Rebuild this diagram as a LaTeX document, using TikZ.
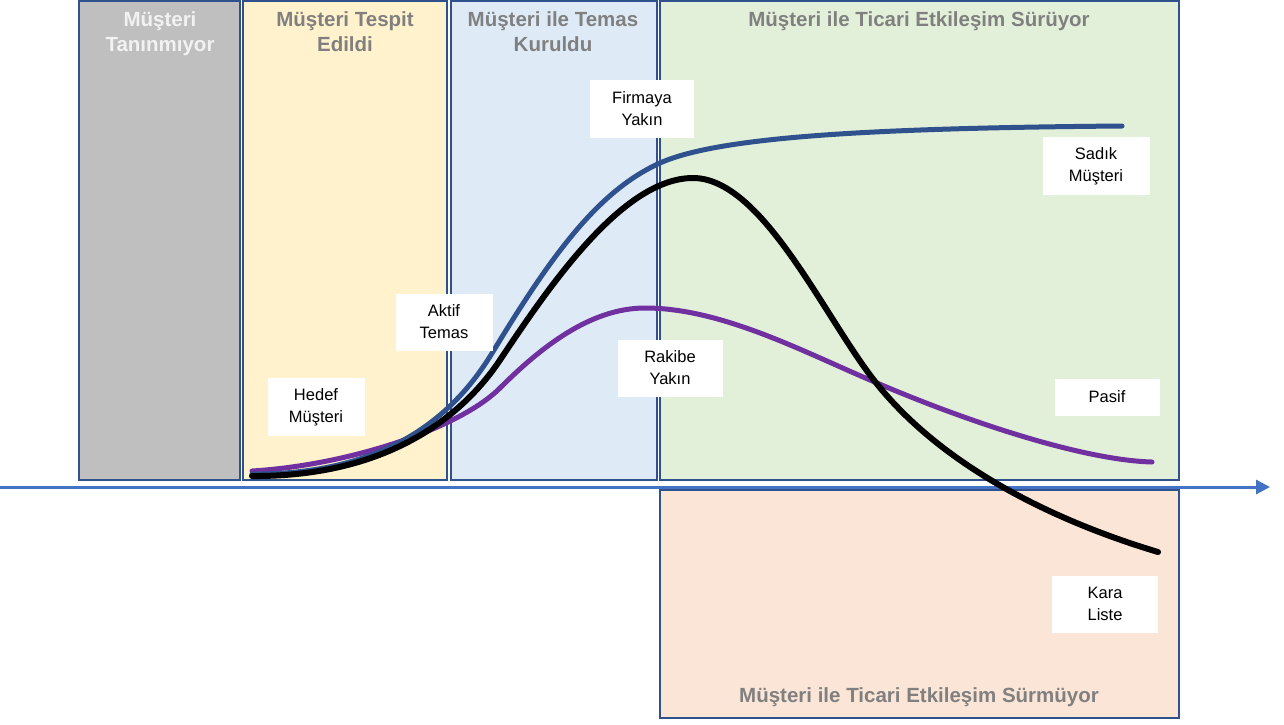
\documentclass[tikz,border=0pt]{standalone}
\usepackage{fontspec}
\setmainfont{Liberation Sans}
\usetikzlibrary{arrows.meta}
\definecolor{frame}{RGB}{47,82,143}
\definecolor{axisblue}{RGB}{68,114,196}
\definecolor{phaseA}{RGB}{191,191,191}
\definecolor{phaseB}{RGB}{255,242,204}
\definecolor{phaseC}{RGB}{222,235,247}
\definecolor{phaseD}{RGB}{226,240,217}
\definecolor{phaseE}{RGB}{251,229,214}
\definecolor{headgray}{RGB}{128,128,128}
\definecolor{loyal}{RGB}{47,82,143}
\definecolor{rival}{RGB}{112,48,160}

\begin{document}
\begin{tikzpicture}[x=1pt, y=-1pt,
    phase/.style={draw=frame, line width=1.6pt},
    head/.style={font=\fontsize{20.5}{25}\selectfont\bfseries, color=headgray, align=center, anchor=north},
    lab/.style={fill=white, font=\fontsize{16.5}{22}\selectfont, align=center, inner sep=0pt},
    curve/.style={line width=5pt, line cap=round}]

  \useasboundingbox (0,0) rectangle (1284,724);

  % ---- phase panels ------------------------------------------------------------
  \draw[phase, fill=phaseA] (79,1) rectangle (240,480);
  \draw[phase, fill=phaseB] (243,1) rectangle (447,480);
  \draw[phase, fill=phaseC] (451,1) rectangle (657,480);
  \draw[phase, fill=phaseD] (660,1) rectangle (1179,480);
  \draw[phase, fill=phaseE] (660,490) rectangle (1179,718);

  \node[head, color=white!95!black] (hUnknown) at (160,8) {Müşteri\\Tanınmıyor};
  \node[head] (hSpotted) at (345,8) {Müşteri Tespit\\Edildi};
  \node[head] (hContact) at (553,8) {Müşteri ile Temas\\Kuruldu};
  \node[head] (hOngoing) at (919,8) {Müşteri ile Ticari Etkileşim Sürüyor};
  \node[head, anchor=center] (hStopped) at (919,697) {Müşteri ile Ticari Etkileşim Sürmüyor};

  % ---- time axis -----------------------------------------------------------------
  \coordinate (axL) at (0,487);
  \coordinate (axR) at (1270,487);
  \draw[axisblue, line width=3pt, -{Triangle[length=14pt, width=14pt]}] (axL) -- (axR);

  % ---- the three paths -------------------------------------------------------------
  % rival: rises a little, then fades to passive
  \draw[curve, rival] (252,471)
     .. controls (350,465) and (460,428) .. (500,388)
     .. controls (540,348) and (590,308) .. (645,308)
     .. controls (720,308) and (800,350) .. (870,380)
     .. controls (960,419) and (1080,460) .. (1152,462);
  % loyal: climbs and stays high
  \draw[curve, loyal] (252,474)
     .. controls (405,475) and (465,398) .. (494,350)
     .. controls (554,251) and (600,190) .. (660,163)
     .. controls (720,136) and (880,128) .. (1122,126);
  % lost: climbs, peaks, falls below the axis
  \draw[curve, black, line width=6pt] (252,476)
     .. controls (400,477) and (470,405) .. (500,360)
     .. controls (550,285) and (623,178) .. (693,178)
     .. controls (760,178) and (820,308) .. (870,375)
     .. controls (935,462) and (1048,519) .. (1158,552);

  % ---- stage labels --------------------------------------------------------------
  \node[lab, minimum width=97pt, minimum height=58pt] (target) at (316,407) {Hedef\\Müşteri};
  \node[lab, minimum width=97pt, minimum height=57pt] (active) at (444,322) {Aktif\\Temas};
  \node[lab, minimum width=104pt, minimum height=58pt] (nearUs) at (642,109) {Firmaya\\Yakın};
  \node[lab, minimum width=105pt, minimum height=57pt] (nearRival) at (670,368) {Rakibe\\Yakın};
  \node[lab, minimum width=107pt, minimum height=58pt] (loyalC) at (1096,166) {Sadık\\Müşteri};
  \node[lab, minimum width=105pt, minimum height=37pt] (passive) at (1107,397) {Pasif};
  \node[lab, minimum width=106pt, minimum height=57pt] (blackList) at (1105,604) {Kara\\Liste};
\end{tikzpicture}
\end{document}
